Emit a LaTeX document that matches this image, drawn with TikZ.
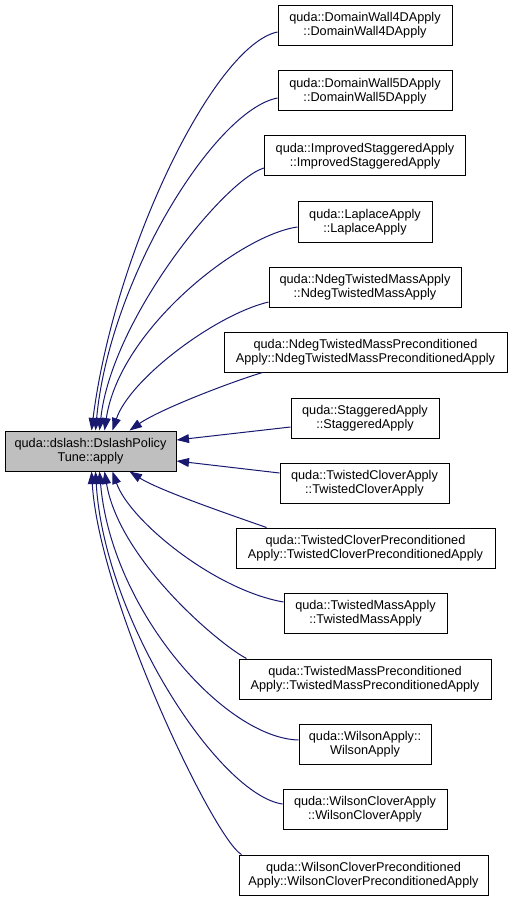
\documentclass[tikz,border=0pt]{standalone}
\usepackage{fontspec}
\setmainfont{Liberation Sans}
\usepackage{xcolor}
\usetikzlibrary{arrows.meta,calc}
\definecolor{edgeblue}{HTML}{191970}
\definecolor{focusgrey}{HTML}{BFBFBF}

\begin{document}
\begin{tikzpicture}[
    x=1pt, y=-1pt,
    box/.style={draw=black, line width=1pt, minimum height=40pt, inner xsep=4pt, inner ysep=0pt, align=center, font=\fontsize{12.7}{14.2}\selectfont},
    focus/.style={box, fill=focusgrey},
    edge/.style={draw=edgeblue, line width=1pt, -{Triangle[length=12.5pt, width=8.8pt]}}
]
    \useasboundingbox (0,0) rectangle (512,901);

    % Called function
    \node[focus, minimum width=171pt] (main) at (90.5, 451) {quda::dslash::DslashPolicy\\Tune::apply};

    % Callers
    \node[box, minimum width=174pt] (dwfour)   at (365, 25.5)  {quda::DomainWall4DApply\\::DomainWall4DApply};
    \node[box, minimum width=174pt] (dwfive)   at (365, 91)    {quda::DomainWall5DApply\\::DomainWall5DApply};
    \node[box, minimum width=201pt] (impstag)  at (365, 156)   {quda::ImprovedStaggeredApply\\::ImprovedStaggeredApply};
    \node[box, minimum width=134pt] (laplace)  at (365, 222)   {quda::LaplaceApply\\::LaplaceApply};
    \node[box, minimum width=192pt] (ndegtm)   at (365, 287)   {quda::NdegTwistedMassApply\\::NdegTwistedMassApply};
    \node[box, minimum width=283pt] (ndegtmp)  at (365.5, 352) {quda::NdegTwistedMassPreconditioned\\Apply::NdegTwistedMassPreconditionedApply};
    \node[box, minimum width=148pt] (stag)     at (365, 418)   {quda::StaggeredApply\\::StaggeredApply};
    \node[box, minimum width=169pt] (tclover)  at (364.5, 483) {quda::TwistedCloverApply\\::TwistedCloverApply};
    \node[box, minimum width=259pt] (tcloverp) at (365.5, 548) {quda::TwistedCloverPreconditioned\\Apply::TwistedCloverPreconditionedApply};
    \node[box, minimum width=163pt] (tmass)    at (365.5, 613) {quda::TwistedMassApply\\::TwistedMassApply};
    \node[box, minimum width=252pt] (tmassp)   at (365, 679)   {quda::TwistedMassPreconditioned\\Apply::TwistedMassPreconditionedApply};
    \node[box, minimum width=132pt] (wilson)   at (365, 744)   {quda::WilsonApply::\\WilsonApply};
    \node[box, minimum width=164pt] (wclover)  at (365, 809)   {quda::WilsonCloverApply\\::WilsonCloverApply};
    \node[box, minimum width=249pt] (wcloverp) at (363.5, 875) {quda::WilsonCloverPreconditioned\\Apply::WilsonCloverPreconditionedApply};

    % Edges into the top of the called function
    \draw[edge] ($(dwfour.west)+(0,6.5)$) .. controls +(-63,13) and +(23,-181) .. ($(main.north west)+(87,0)$);
    \draw[edge] ($(dwfive.west)+(0,7)$) .. controls +(-63,12) and +(14,-151) .. ($(main.north west)+(91,0)$);
    \draw[edge] ($(impstag.west)+(0,12)$) .. controls +(-40,12) and +(12,-111) .. ($(main.north west)+(95,0)$);
    \draw[edge] ($(laplace.west)+(0,5)$) .. controls +(-58,8) and +(15,-101) .. ($(main.north west)+(100,0)$);
    \draw[edge] ($(ndegtm.west)+(0,15)$) .. controls +(-54,13) and +(17,-51) .. ($(main.north west)+(108,0)$);
    \draw[edge] ($(ndegtmp.south west)+(39,0)$) .. controls +(-33,10) and +(30,-21) .. ($(main.north west)+(125,0)$);

    % Edges into the right side
    \draw[edge] ($(stag.west)+(0,9)$) -- ($(main.east)+(0,-11)$);
    \draw[edge] ($(tclover.west)+(0,-10)$) -- ($(main.east)+(0,10)$);

    % Edges into the bottom
    \draw[edge] ($(tcloverp.north west)+(31,0)$) .. controls +(-37,-13) and +(30,19) .. ($(main.south west)+(125,0)$);
    \draw[edge] ($(tmass.west)+(0,-11)$) .. controls +(-69,-12) and +(17,49) .. ($(main.south west)+(108,0)$);
    \draw[edge] ($(tmassp.north west)+(8,0)$) .. controls +(-27,-14) and +(15,89) .. ($(main.south west)+(100,0)$);
    \draw[edge] ($(wilson.west)+(0,-4)$) .. controls +(-74,-2) and +(12,139) .. ($(main.south west)+(95,0)$);
    \draw[edge] ($(wclover.west)+(0,-5)$) .. controls +(-63,-9) and +(9,149) .. ($(main.south west)+(91,0)$);
    \draw[edge] ($(wcloverp.north west)+(3,0)$) .. controls +(-27,-15) and +(8,129) .. ($(main.south west)+(87,0)$);

\end{tikzpicture}
\end{document}
